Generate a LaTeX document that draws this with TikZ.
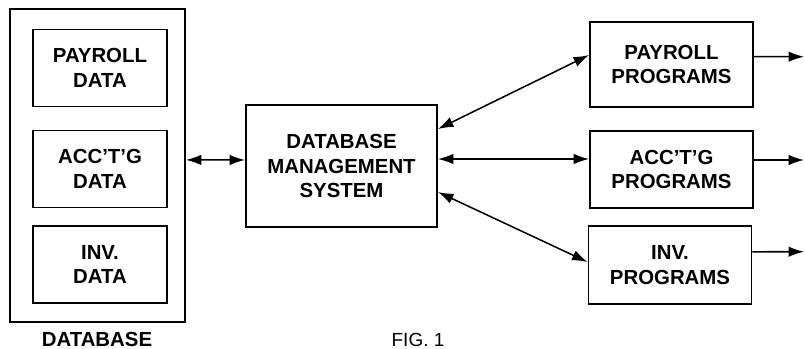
\documentclass[tikz,border=0pt]{standalone}
\usepackage{fontspec}
\setmainfont{Liberation Sans}
\usetikzlibrary{arrows.meta, positioning}

\begin{document}
\begin{tikzpicture}[
    x=0.025cm, y=-0.025cm,
    every node/.style={font=\bfseries\fontsize{14.5}{17.7}\selectfont, inner sep=0pt},
    store/.style={draw, line width=1.3pt, align=center, minimum width=3.35cm, minimum height=1.925cm},
    prog/.style={draw, line width=1.3pt, align=center, minimum width=4.075cm},
    link/.style={{Latex[length=11pt, width=7.5pt]}-{Latex[length=11pt, width=7.5pt]}, line width=1.1pt},
    feed/.style={-{Latex[length=11pt, width=7.5pt]}, line width=1.1pt}
]
\useasboundingbox (0,0) rectangle (805,349);

\node[draw, line width=1.3pt, minimum width=4.375cm, minimum height=7.825cm] (db) at (97.5,165.5) {};
\node[store] (pd) at (100,68) {PAYROLL\\DATA};
\node[store] (ad) at (100,169) {ACC'T'G\\DATA};
\node[store] (id) at (100,264.5) {INV.\\DATA};
\node[anchor=base] (dbl) at (97,346) {DATABASE};

\node[draw, line width=1.3pt, align=center, minimum width=4.775cm, minimum height=3.05cm] (dbms) at (341.5,166) {DATABASE\\MANAGEMENT\\SYSTEM};

\node[prog, minimum height=2.125cm] (pp) at (671.5,64.5) {PAYROLL\\PROGRAMS};
\node[prog, minimum height=1.925cm] (ap) at (671.5,169.5) {ACC'T'G\\PROGRAMS};
\node[prog, minimum height=1.95cm] (ip) at (670,265) {INV.\\PROGRAMS};

\node[anchor=base, font=\fontsize{13.5}{16}\selectfont] (fig) at (418,346) {FIG. 1};

\coordinate (po) at (804,56.7);
\coordinate (ao) at (804,160);
\coordinate (io) at (804,251.7);

\draw[link] ([yshift=0.14cm]db.east) -- ([yshift=0.15cm]dbms.west);
\draw[link] ([yshift=0.925cm]dbms.east) -- ([yshift=0.2375cm]pp.west);
\draw[link] ([yshift=0.175cm]dbms.east) -- ([yshift=0.2625cm]ap.west);
\draw[link] ([yshift=-0.65cm]dbms.east) -- ([yshift=0.075cm]ip.west);

\draw[feed] ([yshift=0.195cm]pp.east) -- (po);
\draw[feed] ([yshift=0.2375cm]ap.east) -- (ao);
\draw[feed] ([yshift=0.33cm]ip.east) -- (io);
\end{tikzpicture}
\end{document}
